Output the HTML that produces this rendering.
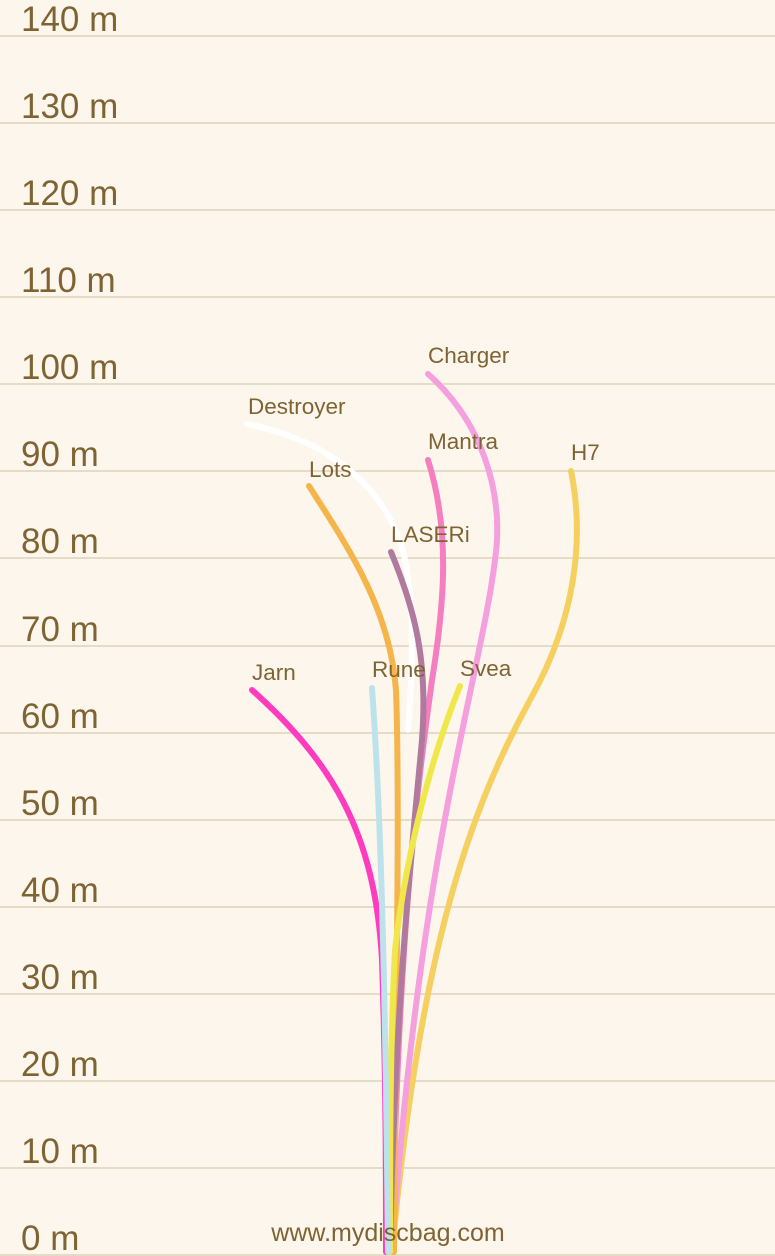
<!DOCTYPE html>
<html><head><meta charset="utf-8"><style>
html,body{margin:0;padding:0;background:#fdf6ec;}
svg{display:block;}
text{font-family:"Liberation Sans",sans-serif;fill:#7f6433;}
</style></head><body>
<svg width="775" height="1256" viewBox="0 0 775 1256" xmlns="http://www.w3.org/2000/svg">
<rect width="775" height="1256" fill="#fdf6ec"/>
<g stroke="#e5dcc7" stroke-width="2">
<line x1="0" x2="775" y1="36" y2="36"/><line x1="0" x2="775" y1="123" y2="123"/>
<line x1="0" x2="775" y1="210" y2="210"/><line x1="0" x2="775" y1="297" y2="297"/>
<line x1="0" x2="775" y1="384" y2="384"/><line x1="0" x2="775" y1="471" y2="471"/>
<line x1="0" x2="775" y1="558" y2="558"/><line x1="0" x2="775" y1="646" y2="646"/>
<line x1="0" x2="775" y1="733" y2="733"/><line x1="0" x2="775" y1="820" y2="820"/>
<line x1="0" x2="775" y1="907" y2="907"/><line x1="0" x2="775" y1="994" y2="994"/>
<line x1="0" x2="775" y1="1081" y2="1081"/><line x1="0" x2="775" y1="1168" y2="1168"/>
<line x1="0" x2="775" y1="1255" y2="1255"/>
</g>
<g font-size="35">
<text x="21" y="31">140 m</text><text x="21" y="118">130 m</text>
<text x="21" y="205">120 m</text><text x="21" y="292">110 m</text>
<text x="21" y="379">100 m</text><text x="21" y="466">90 m</text>
<text x="21" y="553">80 m</text><text x="21" y="641">70 m</text>
<text x="21" y="728">60 m</text><text x="21" y="815">50 m</text>
<text x="21" y="902">40 m</text><text x="21" y="989">30 m</text>
<text x="21" y="1076">20 m</text><text x="21" y="1163">10 m</text>
<text x="21" y="1250">0 m</text>
</g>
<g fill="none" stroke-width="6" stroke-linecap="round">
<path d="M247,424 C330,440 390,490 405,560 C415,610 412,680 408,730" stroke="#ffffff"/>
<path d="M571,471 C585,540 575,620 530,700 C470,810 420,950 392,1252" stroke="#f5d060"/>
<path d="M428,374 C480,420 505,490 495,560 C480,680 420,850 392,1252" stroke="#f4a0de"/>
<path d="M428,460 C450,530 445,600 432,680 C415,800 398,950 392,1252" stroke="#f47ec0"/>
<path d="M309,486 C350,550 390,610 396,690 C400,800 396,1000 394,1252" stroke="#f5b54a"/>
<path d="M391,552 C415,610 428,660 422,740 C412,850 395,1000 390,1252" stroke="#b07a9e"/>
<path d="M460,686 C430,760 405,860 395,950 C390,1050 390,1150 390,1252" stroke="#f0e84a"/>
<path d="M252,690 C330,760 375,830 382,960 C386,1080 386,1180 386,1252" stroke="#ff3cbf"/>
<path d="M372,688 C380,800 385,950 388,1252" stroke="#bde2ec"/>
</g>
<g font-size="22.5">
<text x="428" y="363">Charger</text>
<text x="248" y="414">Destroyer</text>
<text x="428" y="449">Mantra</text>
<text x="571" y="460">H7</text>
<text x="309" y="477">Lots</text>
<text x="391" y="542">LASERi</text>
<text x="252" y="680">Jarn</text>
<text x="372" y="677">Rune</text>
<text x="460" y="676">Svea</text>
</g>
<text x="388" y="1241" font-size="25" text-anchor="middle">www.mydiscbag.com</text>
</svg>
</body></html>
